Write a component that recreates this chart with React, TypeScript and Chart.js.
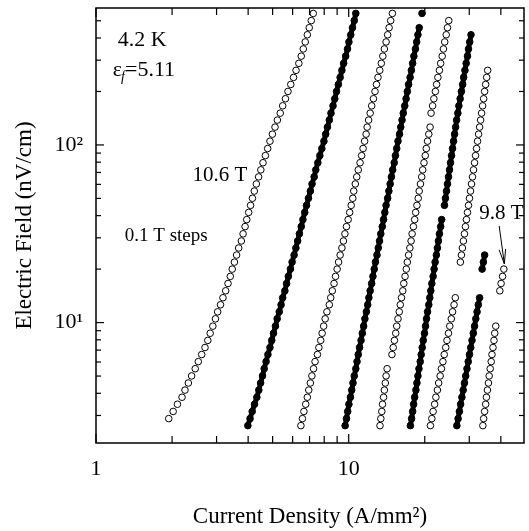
import { useEffect, useRef } from 'react';
import { Chart, registerables } from 'chart.js';

Chart.register(...registerables);

const _ = null;

// Electric field levels (nV/cm) at which each sweep is sampled
const fieldLevels = [
  2.63, 2.88, 3.16, 3.47, 3.80, 4.17, 4.57, 5.01, 5.50, 6.03,
  6.61, 7.24, 7.94, 8.71, 9.55, 10.5, 11.5, 12.6, 13.8, 15.1,
  16.6, 18.2, 20.0, 21.9, 24.0, 26.3, 28.8, 31.6, 34.7, 38.0,
  41.7, 45.7, 50.1, 55.0, 60.3, 66.1, 72.4, 79.4, 87.1, 95.5,
  105, 115, 126, 138, 151, 166, 182, 200, 219, 240,
  263, 288, 316, 347, 380, 417, 457, 501, 550,
];

const fieldLabels = ['10.6 T', '10.5 T', '10.4 T', '10.3 T', '10.2 T', '10.1 T', '10.0 T', '9.9 T', '9.8 T'];

// Current density (A/mm²) for each sweep, aligned with fieldLevels (null = no reading)
const j106 = [
  _, 1.94, 2.02, 2.10, 2.19, 2.25, 2.32, 2.39, 2.47, 2.54,
  2.62, 2.70, 2.77, 2.83, 2.90, 2.97, 3.03, 3.11, 3.18, 3.26,
  3.33, 3.40, 3.46, 3.53, 3.60, 3.67, 3.76, 3.82, 3.89, 3.95,
  4.02, 4.09, 4.16, 4.23, 4.31, 4.40, 4.49, 4.58, 4.68, 4.78,
  4.88, 4.99, 5.11, 5.22, 5.36, 5.48, 5.62, 5.75, 5.90, 6.05,
  6.19, 6.35, 6.49, 6.61, 6.73, 6.86, 6.98, 7.11, 7.24,
];
const j105 = [
  3.99, 4.07, 4.15, 4.24, 4.33, 4.41, 4.48, 4.56, 4.63, 4.71,
  4.79, 4.88, 4.96, 5.04, 5.13, 5.21, 5.31, 5.40, 5.48, 5.59,
  5.68, 5.77, 5.88, 5.97, 6.08, 6.18, 6.28, 6.38, 6.49, 6.59,
  6.70, 6.81, 6.93, 7.05, 7.16, 7.30, 7.41, 7.55, 7.69, 7.83,
  7.98, 8.11, 8.24, 8.38, 8.51, 8.67, 8.81, 8.95, 9.10, 9.25,
  9.40, 9.55, 9.73, 9.89, 10.02, 10.19, 10.35, 10.52, 10.67,
];
const j104 = [
  6.47, 6.56, 6.65, 6.76, 6.86, 6.95, 7.05, 7.15, 7.26, 7.36,
  7.52, 7.62, 7.75, 7.85, 7.96, 8.07, 8.20, 8.38, 8.49, 8.61,
  8.75, 8.87, 9.00, 9.12, 9.25, 9.40, 9.53, 9.66, 9.80, 9.95,
  10.09, 10.23, 10.38, 10.47, 10.62, 10.76, 10.91, 11.09, 11.25, 11.40,
  11.56, 11.72, 11.83, 11.99, 12.16, 12.33, 12.53, 12.71, 12.88, 13.06,
  13.27, 13.46, 13.65, 13.84, 14.06, 14.26, 14.45, 14.66, 14.89,
];
const j103 = [
  9.68, 9.80, 9.91, 10.02, 10.16, 10.28, 10.40, 10.52, 10.67, 10.79,
  10.91, 11.04, 11.19, 11.32, 11.46, 11.59, 11.75, 11.89, 12.02, 12.16,
  12.33, 12.47, 12.62, 12.76, 12.94, 13.09, 13.24, 13.40, 13.58, 13.74,
  13.90, 14.06, 14.26, 14.42, 14.59, 14.76, 14.93, 15.14, 15.31, 15.49,
  15.67, 15.89, 16.07, 16.26, 16.44, 16.67, 16.87, 17.06, 17.26, 17.50,
  17.70, 17.91, 18.11, 18.37, 18.58, 18.79, 19.01, _, 19.50,
];
const j102 = [
  13.30, 13.40, 13.52, 13.61, 13.74, 13.84, 13.96, 14.06, 14.19, _,
  14.83, 15.00, 15.17, 15.35, 15.49, 15.67, 15.85, 16.00, 16.18, 16.37,
  16.52, 16.71, 16.90, 17.06, 17.26, 17.46, 17.66, 17.82, 18.03, 18.24,
  18.41, 18.62, 18.84, 19.01, 19.23, 19.45, 19.63, 19.86, 20.09, 20.28,
  20.51, 20.75, 20.99, _, 21.18, 21.48, 21.73, 22.03, 22.28, 22.54,
  22.86, 23.12, 23.44, 23.71, 23.99, 24.32, 24.60, 24.89, _,
];
const j101 = [
  17.54, 17.74, 17.91, 18.07, 18.24, 18.45, 18.62, 18.79, 18.97, 19.19,
  19.36, 19.54, 19.72, 19.95, 20.14, 20.32, 20.51, 20.75, 20.94, 21.13,
  21.33, 21.58, 21.78, 21.98, 22.23, 22.44, 22.65, 22.86, 23.12, 23.33,
  _, 23.93, 24.15, 24.38, 24.60, 24.83, 25.06, 25.29, 25.53, 25.76,
  26.00, 26.24, 26.49, 26.73, 27.04, 27.29, 27.61, 27.93, 28.25, 28.51,
  28.84, 29.17, 29.51, 29.79, 30.13, 30.48, _, _, _,
];
const j100 = [
  21.05, 21.33, 21.58, 21.88, 22.13, 22.44, 22.70, 23.01, 23.28, 23.60,
  23.88, 24.21, 24.49, 24.83, 25.12, 25.47, 25.76, 26.12, 26.42, _,
  _, _, _, 27.67, 27.93, 28.18, 28.44, 28.71, 28.97, 29.24,
  29.51, 29.79, 30.06, 30.34, 30.62, 30.90, 31.19, 31.48, 31.77, 32.06,
  32.36, 32.66, 32.96, 33.27, 33.57, 33.88, 34.20, 34.51, 34.83, 35.16,
  35.48, _, _, _, _, _, _, _, _,
];
const j099 = [
  26.79, 27.10, 27.42, 27.73, 28.05, 28.38, 28.71, 29.04, 29.38, 29.72,
  30.06, 30.41, 30.76, 31.12, 31.48, 31.84, 32.21, 32.58, 32.96, _,
  _, _, 33.73, 34.12, 34.51, _, _, _, _, _,
  _, _, _, _, _, _, _, _, _, _,
  _, _, _, _, _, _, _, _, _, _,
  _, _, _, _, _, _, _, _, _,
];
const j098 = [
  33.96, 34.20, 34.51, 34.83, 35.08, 35.40, 35.73, 35.97, 36.31, 36.64,
  36.90, 37.24, 37.58, 37.84, 38.19, _, _, _, _, 39.63,
  40.09, 40.64, 41.11, _, _, _, _, _, _, _,
  _, _, _, _, _, _, _, _, _, _,
  _, _, _, _, _, _, _, _, _, _,
  _, _, _, _, _, _, _, _, _,
];

const sweeps = [j106, j105, j104, j103, j102, j101, j100, j099, j098];

const xRange = [1, 49.4];
const yRange = [2.1, 590];
const xMajorTicks = [1, 10];
const xMinorTicks = [2, 3, 4, 5, 6, 7, 8, 9, 20, 30, 40];
const yMajorTicks = [10, 100];
const yMinorTicks = [3, 4, 5, 6, 7, 8, 9, 20, 30, 40, 50, 60, 70, 80, 90, 200, 300, 400, 500];
const yTickText: Record<number, string> = { 10: '10¹', 100: '10²' };

const SERIF = '"Liberation Serif", "Times New Roman", Times, serif';

// Text annotations placed in data coordinates
const notes = [
  { text: '4.2 K', j: 1.22, e: 390, size: 22, align: 'left' as CanvasTextAlign },
  { text: '10.6 T', j: 3.09, e: 67, size: 21, align: 'center' as CanvasTextAlign },
  { text: '0.1 T steps', j: 1.30, e: 30.8, size: 19, align: 'left' as CanvasTextAlign },
  { text: '9.8 T', j: 40.2, e: 40.9, size: 21, align: 'center' as CanvasTextAlign },
];
const strainNote = { j: 1.166, e: 264, value: '=5.11' };
const arrowFrom = [39.4, 35.0];
const arrowTo = [41.3, 21.4];

const framePlugin = {
  id: 'frameAndNotes',
  afterDatasetsDraw(chart: any) {
    const { ctx, chartArea: a, scales } = chart;
    const xs = scales.x;
    const ys = scales.y;
    ctx.save();
    ctx.strokeStyle = '#000';
    ctx.fillStyle = '#000';
    const seg = (x1: number, y1: number, x2: number, y2: number) => {
      ctx.beginPath();
      ctx.moveTo(x1, y1);
      ctx.lineTo(x2, y2);
      ctx.stroke();
    };

    // inward ticks on all four sides
    ctx.lineWidth = 1.2;
    const xTick = (v: number, len: number) => {
      const p = xs.getPixelForValue(v);
      seg(p, a.bottom, p, a.bottom - len);
      seg(p, a.top, p, a.top + len);
    };
    const yTick = (v: number, len: number) => {
      const p = ys.getPixelForValue(v);
      seg(a.left, p, a.left + len, p);
      seg(a.right, p, a.right - len, p);
    };
    xMajorTicks.forEach((v) => xTick(v, 9));
    xMinorTicks.forEach((v) => xTick(v, 7));
    yMajorTicks.forEach((v) => yTick(v, 8));
    yMinorTicks.forEach((v) => yTick(v, 5));

    ctx.lineWidth = 1.5;
    ctx.strokeRect(a.left, a.top, a.right - a.left, a.bottom - a.top);

    // annotations
    ctx.textBaseline = 'middle';
    notes.forEach((n) => {
      ctx.font = `${n.size}px ${SERIF}`;
      ctx.textAlign = n.align;
      ctx.fillText(n.text, xs.getPixelForValue(n.j), ys.getPixelForValue(n.e));
    });

    // ε_f = 5.11
    let sx = xs.getPixelForValue(strainNote.j);
    const sy = ys.getPixelForValue(strainNote.e);
    ctx.textAlign = 'left';
    ctx.font = `22px ${SERIF}`;
    ctx.fillText('ε', sx, sy);
    sx += ctx.measureText('ε').width;
    ctx.font = `italic 14px ${SERIF}`;
    ctx.fillText('f', sx - 1, sy + 7);
    sx += ctx.measureText('f').width - 1;
    ctx.font = `22px ${SERIF}`;
    ctx.fillText(strainNote.value, sx, sy);

    // arrow pointing at the 9.8 T sweep
    const ax1 = xs.getPixelForValue(arrowFrom[0]);
    const ay1 = ys.getPixelForValue(arrowFrom[1]);
    const ax2 = xs.getPixelForValue(arrowTo[0]);
    const ay2 = ys.getPixelForValue(arrowTo[1]);
    ctx.lineWidth = 1;
    seg(ax1, ay1, ax2, ay2);
    const ang = Math.atan2(ay2 - ay1, ax2 - ax1);
    const head = 15;
    const spread = 0.22;
    seg(ax2, ay2, ax2 - head * Math.cos(ang - spread), ay2 - head * Math.sin(ang - spread));
    seg(ax2, ay2, ax2 - head * Math.cos(ang + spread), ay2 - head * Math.sin(ang + spread));
    ctx.restore();
  },
};

export default function App() {
  const canvasRef = useRef<HTMLCanvasElement | null>(null);

  useEffect(() => {
    const canvas = canvasRef.current;
    if (!canvas) return;

    // open symbols for 10.6, 10.4, ... T; filled symbols for 10.5, 10.3, ... T
    const datasets = sweeps.map((jv, k) => {
      const open = k % 2 === 0;
      return {
        label: fieldLabels[k],
        data: fieldLevels.map((e, i) => ({ x: jv[i], y: e })),
        showLine: !open,
        spanGaps: false,
        borderColor: '#000000',
        borderWidth: 5,
        pointRadius: 3.3,
        pointBorderWidth: 1,
        pointBackgroundColor: open ? '#ffffff' : '#000000',
        pointBorderColor: '#000000',
      };
    });

    const zeroPad = (s: any) => {
      s.paddingLeft = 0;
      s.paddingRight = 0;
      s.paddingTop = 0;
      s.paddingBottom = 0;
    };

    const chart = new Chart(canvas, {
      type: 'scatter',
      data: { datasets },
      options: {
        animation: false,
        responsive: false,
        devicePixelRatio: 1,
        layout: { padding: { top: 8, right: 1, left: 0, bottom: 0 } },
        plugins: { legend: { display: false }, tooltip: { enabled: false } },
        scales: {
          x: {
            type: 'logarithmic',
            min: xRange[0],
            max: xRange[1],
            afterBuildTicks: (s: any) => {
              s.ticks = xMajorTicks.map((v) => ({ value: v }));
            },
            afterFit: (s: any) => {
              s.height = 88;
              zeroPad(s);
            },
            grid: { display: false, drawTicks: false },
            border: { display: false },
            ticks: {
              color: '#000',
              font: { family: SERIF, size: 22 },
              padding: 13,
              maxRotation: 0,
              autoSkip: false,
              callback: (v: any) => String(v),
            },
            title: {
              display: true,
              text: 'Current Density (A/mm²)',
              color: '#000',
              font: { family: SERIF, size: 23 },
              padding: { top: 0, bottom: 0 },
            },
          },
          y: {
            type: 'logarithmic',
            min: yRange[0],
            max: yRange[1],
            afterBuildTicks: (s: any) => {
              s.ticks = yMajorTicks.map((v) => ({ value: v }));
            },
            afterFit: (s: any) => {
              s.width = 96;
              zeroPad(s);
            },
            grid: { display: false, drawTicks: false },
            border: { display: false },
            ticks: {
              color: '#000',
              font: { family: SERIF, size: 22 },
              padding: 13,
              autoSkip: false,
              callback: (v: any) => yTickText[Number(v)] ?? '',
            },
            title: {
              display: true,
              text: 'Electric Field (nV/cm)',
              color: '#000',
              font: { family: SERIF, size: 23 },
              padding: { top: 11, bottom: 0 },
            },
          },
        },
      },
      plugins: [framePlugin],
    } as any);

    return () => chart.destroy();
  }, []);

  return (
    <div style={{ position: 'fixed', left: 0, top: 0, width: 529, height: 531, background: '#fff' }}>
      <canvas ref={canvasRef} width={529} height={531} style={{ display: 'block' }} />
    </div>
  );
}
